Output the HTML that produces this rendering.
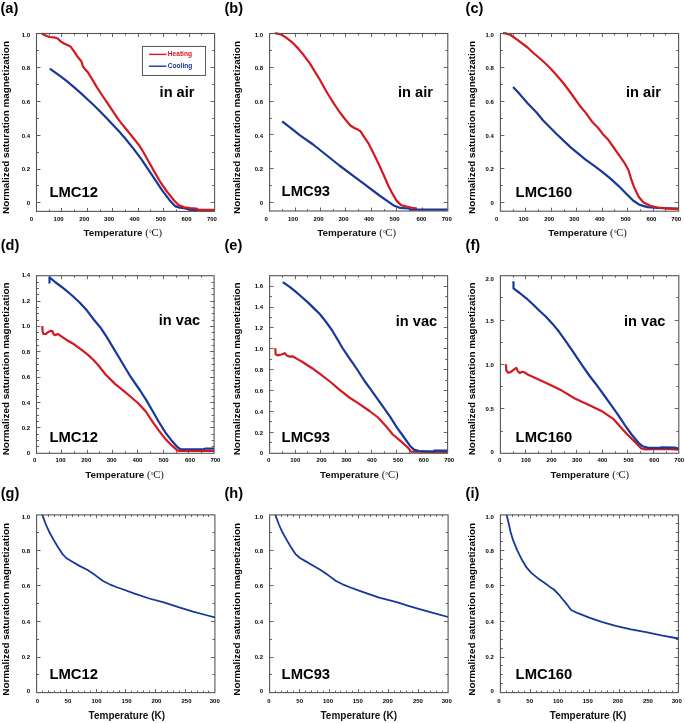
<!DOCTYPE html>
<html><head><meta charset="utf-8"><style>
html,body{margin:0;padding:0;background:#fff;}
svg{display:block;will-change:transform;}
</style></head><body>
<svg width="685" height="723" viewBox="0 0 685 723">
<rect width="685" height="723" fill="#fff"/>
<text x="0.5" y="12.7" font-family="Liberation Sans" font-size="14.6" font-weight="bold" text-anchor="start" fill="#000" >(a)</text>
<text x="224.5" y="12.7" font-family="Liberation Sans" font-size="14.6" font-weight="bold" text-anchor="start" fill="#000" >(b)</text>
<text x="465.6" y="12.7" font-family="Liberation Sans" font-size="14.6" font-weight="bold" text-anchor="start" fill="#000" >(c)</text>
<text x="0.7" y="249.8" font-family="Liberation Sans" font-size="14.6" font-weight="bold" text-anchor="start" fill="#000" >(d)</text>
<text x="224.5" y="249.8" font-family="Liberation Sans" font-size="14.6" font-weight="bold" text-anchor="start" fill="#000" >(e)</text>
<text x="465.6" y="249.8" font-family="Liberation Sans" font-size="14.6" font-weight="bold" text-anchor="start" fill="#000" >(f)</text>
<text x="0.7" y="498.2" font-family="Liberation Sans" font-size="14.6" font-weight="bold" text-anchor="start" fill="#000" >(g)</text>
<text x="224.5" y="498.2" font-family="Liberation Sans" font-size="14.6" font-weight="bold" text-anchor="start" fill="#000" >(h)</text>
<text x="465.6" y="498.2" font-family="Liberation Sans" font-size="14.6" font-weight="bold" text-anchor="start" fill="#000" >(i)</text>
<path d="M49.5 211.4L49.5 209.4 M49.5 33.5L49.5 35.5 M61.5 211.4L61.5 207.9 M61.5 33.5L61.5 37 M74.5 211.4L74.5 209.4 M74.5 33.5L74.5 35.5 M87.5 211.4L87.5 207.9 M87.5 33.5L87.5 37 M100.5 211.4L100.5 209.4 M100.5 33.5L100.5 35.5 M112.5 211.4L112.5 207.9 M112.5 33.5L112.5 37 M125.5 211.4L125.5 209.4 M125.5 33.5L125.5 35.5 M138.5 211.4L138.5 207.9 M138.5 33.5L138.5 37 M150.5 211.4L150.5 209.4 M150.5 33.5L150.5 35.5 M163.5 211.4L163.5 207.9 M163.5 33.5L163.5 37 M176.5 211.4L176.5 209.4 M176.5 33.5L176.5 35.5 M189.5 211.4L189.5 207.9 M189.5 33.5L189.5 37 M201.5 211.4L201.5 209.4 M201.5 33.5L201.5 35.5 M36.5 202.5L40.5 202.5 M214.6 202.5L210.6 202.5 M36.5 185.5L39 185.5 M214.6 185.5L212.1 185.5 M36.5 169.5L40.5 169.5 M214.6 169.5L210.6 169.5 M36.5 152.5L39 152.5 M214.6 152.5L212.1 152.5 M36.5 135.5L40.5 135.5 M214.6 135.5L210.6 135.5 M36.5 118.5L39 118.5 M214.6 118.5L212.1 118.5 M36.5 101.5L40.5 101.5 M214.6 101.5L210.6 101.5 M36.5 84.5L39 84.5 M214.6 84.5L212.1 84.5 M36.5 67.5L40.5 67.5 M214.6 67.5L210.6 67.5 M36.5 50.5L39 50.5 M214.6 50.5L212.1 50.5" stroke="#666" stroke-width="1" fill="none"/>
<path d="M282.5 211L282.5 209 M282.5 33.5L282.5 35.5 M295.5 211L295.5 207.5 M295.5 33.5L295.5 37 M307.5 211L307.5 209 M307.5 33.5L307.5 35.5 M320.5 211L320.5 207.5 M320.5 33.5L320.5 37 M333.5 211L333.5 209 M333.5 33.5L333.5 35.5 M345.5 211L345.5 207.5 M345.5 33.5L345.5 37 M358.5 211L358.5 209 M358.5 33.5L358.5 35.5 M371.5 211L371.5 207.5 M371.5 33.5L371.5 37 M384.5 211L384.5 209 M384.5 33.5L384.5 35.5 M396.5 211L396.5 207.5 M396.5 33.5L396.5 37 M409.5 211L409.5 209 M409.5 33.5L409.5 35.5 M422.5 211L422.5 207.5 M422.5 33.5L422.5 37 M435.5 211L435.5 209 M435.5 33.5L435.5 35.5 M269.6 202.5L273.6 202.5 M447.8 202.5L443.8 202.5 M269.6 185.5L272.1 185.5 M447.8 185.5L445.3 185.5 M269.6 168.5L273.6 168.5 M447.8 168.5L443.8 168.5 M269.6 151.5L272.1 151.5 M447.8 151.5L445.3 151.5 M269.6 134.5L273.6 134.5 M447.8 134.5L443.8 134.5 M269.6 118.5L272.1 118.5 M447.8 118.5L445.3 118.5 M269.6 101.5L273.6 101.5 M447.8 101.5L443.8 101.5 M269.6 84.5L272.1 84.5 M447.8 84.5L445.3 84.5 M269.6 67.5L273.6 67.5 M447.8 67.5L443.8 67.5 M269.6 50.5L272.1 50.5 M447.8 50.5L445.3 50.5" stroke="#666" stroke-width="1" fill="none"/>
<path d="M513.5 211.2L513.5 209.2 M513.5 33.5L513.5 35.5 M525.5 211.2L525.5 207.7 M525.5 33.5L525.5 37 M538.5 211.2L538.5 209.2 M538.5 33.5L538.5 35.5 M551.5 211.2L551.5 207.7 M551.5 33.5L551.5 37 M564.5 211.2L564.5 209.2 M564.5 33.5L564.5 35.5 M576.5 211.2L576.5 207.7 M576.5 33.5L576.5 37 M589.5 211.2L589.5 209.2 M589.5 33.5L589.5 35.5 M602.5 211.2L602.5 207.7 M602.5 33.5L602.5 37 M614.5 211.2L614.5 209.2 M614.5 33.5L614.5 35.5 M627.5 211.2L627.5 207.7 M627.5 33.5L627.5 37 M640.5 211.2L640.5 209.2 M640.5 33.5L640.5 35.5 M653.5 211.2L653.5 207.7 M653.5 33.5L653.5 37 M665.5 211.2L665.5 209.2 M665.5 33.5L665.5 35.5 M500.4 202.5L504.4 202.5 M678.6 202.5L674.6 202.5 M500.4 185.5L502.9 185.5 M678.6 185.5L676.1 185.5 M500.4 168.5L504.4 168.5 M678.6 168.5L674.6 168.5 M500.4 151.5L502.9 151.5 M678.6 151.5L676.1 151.5 M500.4 135.5L504.4 135.5 M678.6 135.5L674.6 135.5 M500.4 118.5L502.9 118.5 M678.6 118.5L676.1 118.5 M500.4 101.5L504.4 101.5 M678.6 101.5L674.6 101.5 M500.4 84.5L502.9 84.5 M678.6 84.5L676.1 84.5 M500.4 67.5L504.4 67.5 M678.6 67.5L674.6 67.5 M500.4 50.5L502.9 50.5 M678.6 50.5L676.1 50.5" stroke="#666" stroke-width="1" fill="none"/>
<path d="M49.5 453.3L49.5 451.3 M49.5 275.7L49.5 277.7 M61.5 453.3L61.5 449.8 M61.5 275.7L61.5 279.2 M74.5 453.3L74.5 451.3 M74.5 275.7L74.5 277.7 M87.5 453.3L87.5 449.8 M87.5 275.7L87.5 279.2 M99.5 453.3L99.5 451.3 M99.5 275.7L99.5 277.7 M112.5 453.3L112.5 449.8 M112.5 275.7L112.5 279.2 M125.5 453.3L125.5 451.3 M125.5 275.7L125.5 277.7 M137.5 453.3L137.5 449.8 M137.5 275.7L137.5 279.2 M150.5 453.3L150.5 451.3 M150.5 275.7L150.5 277.7 M163.5 453.3L163.5 449.8 M163.5 275.7L163.5 279.2 M176.5 453.3L176.5 451.3 M176.5 275.7L176.5 277.7 M188.5 453.3L188.5 449.8 M188.5 275.7L188.5 279.2 M201.5 453.3L201.5 451.3 M201.5 275.7L201.5 277.7 M36.5 446.5L39 446.5 M214.1 446.5L211.6 446.5 M36.5 440.5L39 440.5 M214.1 440.5L211.6 440.5 M36.5 434.5L39 434.5 M214.1 434.5L211.6 434.5 M36.5 427.5L40.5 427.5 M214.1 427.5L210.1 427.5 M36.5 421.5L39 421.5 M214.1 421.5L211.6 421.5 M36.5 415.5L39 415.5 M214.1 415.5L211.6 415.5 M36.5 408.5L39 408.5 M214.1 408.5L211.6 408.5 M36.5 402.5L40.5 402.5 M214.1 402.5L210.1 402.5 M36.5 396.5L39 396.5 M214.1 396.5L211.6 396.5 M36.5 389.5L39 389.5 M214.1 389.5L211.6 389.5 M36.5 383.5L39 383.5 M214.1 383.5L211.6 383.5 M36.5 377.5L40.5 377.5 M214.1 377.5L210.1 377.5 M36.5 370.5L39 370.5 M214.1 370.5L211.6 370.5 M36.5 364.5L39 364.5 M214.1 364.5L211.6 364.5 M36.5 358.5L39 358.5 M214.1 358.5L211.6 358.5 M36.5 351.5L40.5 351.5 M214.1 351.5L210.1 351.5 M36.5 345.5L39 345.5 M214.1 345.5L211.6 345.5 M36.5 339.5L39 339.5 M214.1 339.5L211.6 339.5 M36.5 332.5L39 332.5 M214.1 332.5L211.6 332.5 M36.5 326.5L40.5 326.5 M214.1 326.5L210.1 326.5 M36.5 320.5L39 320.5 M214.1 320.5L211.6 320.5 M36.5 313.5L39 313.5 M214.1 313.5L211.6 313.5 M36.5 307.5L39 307.5 M214.1 307.5L211.6 307.5 M36.5 301.5L40.5 301.5 M214.1 301.5L210.1 301.5 M36.5 294.5L39 294.5 M214.1 294.5L211.6 294.5 M36.5 288.5L39 288.5 M214.1 288.5L211.6 288.5 M36.5 282.5L39 282.5 M214.1 282.5L211.6 282.5" stroke="#666" stroke-width="1" fill="none"/>
<path d="M282.5 453.3L282.5 451.3 M282.5 275.7L282.5 277.7 M295.5 453.3L295.5 449.8 M295.5 275.7L295.5 279.2 M307.5 453.3L307.5 451.3 M307.5 275.7L307.5 277.7 M320.5 453.3L320.5 449.8 M320.5 275.7L320.5 279.2 M333.5 453.3L333.5 451.3 M333.5 275.7L333.5 277.7 M345.5 453.3L345.5 449.8 M345.5 275.7L345.5 279.2 M358.5 453.3L358.5 451.3 M358.5 275.7L358.5 277.7 M371.5 453.3L371.5 449.8 M371.5 275.7L371.5 279.2 M384.5 453.3L384.5 451.3 M384.5 275.7L384.5 277.7 M396.5 453.3L396.5 449.8 M396.5 275.7L396.5 279.2 M409.5 453.3L409.5 451.3 M409.5 275.7L409.5 277.7 M422.5 453.3L422.5 449.8 M422.5 275.7L422.5 279.2 M434.5 453.3L434.5 451.3 M434.5 275.7L434.5 277.7 M269.6 442.5L272.1 442.5 M447.6 442.5L445.1 442.5 M269.6 432.5L273.6 432.5 M447.6 432.5L443.6 432.5 M269.6 421.5L272.1 421.5 M447.6 421.5L445.1 421.5 M269.6 411.5L273.6 411.5 M447.6 411.5L443.6 411.5 M269.6 401.5L272.1 401.5 M447.6 401.5L445.1 401.5 M269.6 390.5L273.6 390.5 M447.6 390.5L443.6 390.5 M269.6 380.5L272.1 380.5 M447.6 380.5L445.1 380.5 M269.6 369.5L273.6 369.5 M447.6 369.5L443.6 369.5 M269.6 359.5L272.1 359.5 M447.6 359.5L445.1 359.5 M269.6 348.5L273.6 348.5 M447.6 348.5L443.6 348.5 M269.6 338.5L272.1 338.5 M447.6 338.5L445.1 338.5 M269.6 327.5L273.6 327.5 M447.6 327.5L443.6 327.5 M269.6 317.5L272.1 317.5 M447.6 317.5L445.1 317.5 M269.6 307.5L273.6 307.5 M447.6 307.5L443.6 307.5 M269.6 296.5L272.1 296.5 M447.6 296.5L445.1 296.5 M269.6 286.5L273.6 286.5 M447.6 286.5L443.6 286.5" stroke="#666" stroke-width="1" fill="none"/>
<path d="M513.5 453.3L513.5 451.3 M513.5 275.7L513.5 277.7 M525.5 453.3L525.5 449.8 M525.5 275.7L525.5 279.2 M538.5 453.3L538.5 451.3 M538.5 275.7L538.5 277.7 M551.5 453.3L551.5 449.8 M551.5 275.7L551.5 279.2 M564.5 453.3L564.5 451.3 M564.5 275.7L564.5 277.7 M576.5 453.3L576.5 449.8 M576.5 275.7L576.5 279.2 M589.5 453.3L589.5 451.3 M589.5 275.7L589.5 277.7 M602.5 453.3L602.5 449.8 M602.5 275.7L602.5 279.2 M615.5 453.3L615.5 451.3 M615.5 275.7L615.5 277.7 M627.5 453.3L627.5 449.8 M627.5 275.7L627.5 279.2 M640.5 453.3L640.5 451.3 M640.5 275.7L640.5 277.7 M653.5 453.3L653.5 449.8 M653.5 275.7L653.5 279.2 M666.5 453.3L666.5 451.3 M666.5 275.7L666.5 277.7 M500.4 431.5L502.9 431.5 M678.8 431.5L676.3 431.5 M500.4 408.5L504.4 408.5 M678.8 408.5L674.8 408.5 M500.4 386.5L502.9 386.5 M678.8 386.5L676.3 386.5 M500.4 364.5L504.4 364.5 M678.8 364.5L674.8 364.5 M500.4 342.5L502.9 342.5 M678.8 342.5L676.3 342.5 M500.4 320.5L504.4 320.5 M678.8 320.5L674.8 320.5 M500.4 297.5L502.9 297.5 M678.8 297.5L676.3 297.5" stroke="#666" stroke-width="1" fill="none"/>
<path d="M42.5 692.6L42.5 690.6 M42.5 514.9L42.5 516.9 M48.5 692.6L48.5 690.6 M48.5 514.9L48.5 516.9 M54.5 692.6L54.5 690.6 M54.5 514.9L54.5 516.9 M60.5 692.6L60.5 690.6 M60.5 514.9L60.5 516.9 M66.5 692.6L66.5 689.1 M66.5 514.9L66.5 518.4 M72.5 692.6L72.5 690.6 M72.5 514.9L72.5 516.9 M78.5 692.6L78.5 690.6 M78.5 514.9L78.5 516.9 M84.5 692.6L84.5 690.6 M84.5 514.9L84.5 516.9 M90.5 692.6L90.5 690.6 M90.5 514.9L90.5 516.9 M96.5 692.6L96.5 689.1 M96.5 514.9L96.5 518.4 M101.5 692.6L101.5 690.6 M101.5 514.9L101.5 516.9 M107.5 692.6L107.5 690.6 M107.5 514.9L107.5 516.9 M113.5 692.6L113.5 690.6 M113.5 514.9L113.5 516.9 M119.5 692.6L119.5 690.6 M119.5 514.9L119.5 516.9 M125.5 692.6L125.5 689.1 M125.5 514.9L125.5 518.4 M131.5 692.6L131.5 690.6 M131.5 514.9L131.5 516.9 M137.5 692.6L137.5 690.6 M137.5 514.9L137.5 516.9 M143.5 692.6L143.5 690.6 M143.5 514.9L143.5 516.9 M149.5 692.6L149.5 690.6 M149.5 514.9L149.5 516.9 M155.5 692.6L155.5 689.1 M155.5 514.9L155.5 518.4 M161.5 692.6L161.5 690.6 M161.5 514.9L161.5 516.9 M167.5 692.6L167.5 690.6 M167.5 514.9L167.5 516.9 M173.5 692.6L173.5 690.6 M173.5 514.9L173.5 516.9 M179.5 692.6L179.5 690.6 M179.5 514.9L179.5 516.9 M185.5 692.6L185.5 689.1 M185.5 514.9L185.5 518.4 M191.5 692.6L191.5 690.6 M191.5 514.9L191.5 516.9 M197.5 692.6L197.5 690.6 M197.5 514.9L197.5 516.9 M203.5 692.6L203.5 690.6 M203.5 514.9L203.5 516.9 M208.5 692.6L208.5 690.6 M208.5 514.9L208.5 516.9 M36.6 674.5L39.1 674.5 M214.9 674.5L212.4 674.5 M36.6 657.5L40.6 657.5 M214.9 657.5L210.9 657.5 M36.6 639.5L39.1 639.5 M214.9 639.5L212.4 639.5 M36.6 621.5L40.6 621.5 M214.9 621.5L210.9 621.5 M36.6 603.5L39.1 603.5 M214.9 603.5L212.4 603.5 M36.6 585.5L40.6 585.5 M214.9 585.5L210.9 585.5 M36.6 568.5L39.1 568.5 M214.9 568.5L212.4 568.5 M36.6 550.5L40.6 550.5 M214.9 550.5L210.9 550.5 M36.6 532.5L39.1 532.5 M214.9 532.5L212.4 532.5" stroke="#666" stroke-width="1" fill="none"/>
<path d="M275.5 692.6L275.5 690.6 M275.5 514.9L275.5 516.9 M281.5 692.6L281.5 690.6 M281.5 514.9L281.5 516.9 M287.5 692.6L287.5 690.6 M287.5 514.9L287.5 516.9 M293.5 692.6L293.5 690.6 M293.5 514.9L293.5 516.9 M299.5 692.6L299.5 689.1 M299.5 514.9L299.5 518.4 M305.5 692.6L305.5 690.6 M305.5 514.9L305.5 516.9 M311.5 692.6L311.5 690.6 M311.5 514.9L311.5 516.9 M317.5 692.6L317.5 690.6 M317.5 514.9L317.5 516.9 M323.5 692.6L323.5 690.6 M323.5 514.9L323.5 516.9 M329.5 692.6L329.5 689.1 M329.5 514.9L329.5 518.4 M335.5 692.6L335.5 690.6 M335.5 514.9L335.5 516.9 M340.5 692.6L340.5 690.6 M340.5 514.9L340.5 516.9 M346.5 692.6L346.5 690.6 M346.5 514.9L346.5 516.9 M352.5 692.6L352.5 690.6 M352.5 514.9L352.5 516.9 M358.5 692.6L358.5 689.1 M358.5 514.9L358.5 518.4 M364.5 692.6L364.5 690.6 M364.5 514.9L364.5 516.9 M370.5 692.6L370.5 690.6 M370.5 514.9L370.5 516.9 M376.5 692.6L376.5 690.6 M376.5 514.9L376.5 516.9 M382.5 692.6L382.5 690.6 M382.5 514.9L382.5 516.9 M388.5 692.6L388.5 689.1 M388.5 514.9L388.5 518.4 M394.5 692.6L394.5 690.6 M394.5 514.9L394.5 516.9 M400.5 692.6L400.5 690.6 M400.5 514.9L400.5 516.9 M406.5 692.6L406.5 690.6 M406.5 514.9L406.5 516.9 M412.5 692.6L412.5 690.6 M412.5 514.9L412.5 516.9 M418.5 692.6L418.5 689.1 M418.5 514.9L418.5 518.4 M424.5 692.6L424.5 690.6 M424.5 514.9L424.5 516.9 M430.5 692.6L430.5 690.6 M430.5 514.9L430.5 516.9 M436.5 692.6L436.5 690.6 M436.5 514.9L436.5 516.9 M442.5 692.6L442.5 690.6 M442.5 514.9L442.5 516.9 M269.6 674.5L272.1 674.5 M448.1 674.5L445.6 674.5 M269.6 657.5L273.6 657.5 M448.1 657.5L444.1 657.5 M269.6 639.5L272.1 639.5 M448.1 639.5L445.6 639.5 M269.6 621.5L273.6 621.5 M448.1 621.5L444.1 621.5 M269.6 603.5L272.1 603.5 M448.1 603.5L445.6 603.5 M269.6 585.5L273.6 585.5 M448.1 585.5L444.1 585.5 M269.6 568.5L272.1 568.5 M448.1 568.5L445.6 568.5 M269.6 550.5L273.6 550.5 M448.1 550.5L444.1 550.5 M269.6 532.5L272.1 532.5 M448.1 532.5L445.6 532.5" stroke="#666" stroke-width="1" fill="none"/>
<path d="M506.5 692.6L506.5 690.6 M506.5 514.9L506.5 516.9 M512.5 692.6L512.5 690.6 M512.5 514.9L512.5 516.9 M518.5 692.6L518.5 690.6 M518.5 514.9L518.5 516.9 M524.5 692.6L524.5 690.6 M524.5 514.9L524.5 516.9 M530.5 692.6L530.5 689.1 M530.5 514.9L530.5 518.4 M536.5 692.6L536.5 690.6 M536.5 514.9L536.5 516.9 M541.5 692.6L541.5 690.6 M541.5 514.9L541.5 516.9 M547.5 692.6L547.5 690.6 M547.5 514.9L547.5 516.9 M553.5 692.6L553.5 690.6 M553.5 514.9L553.5 516.9 M559.5 692.6L559.5 689.1 M559.5 514.9L559.5 518.4 M565.5 692.6L565.5 690.6 M565.5 514.9L565.5 516.9 M571.5 692.6L571.5 690.6 M571.5 514.9L571.5 516.9 M577.5 692.6L577.5 690.6 M577.5 514.9L577.5 516.9 M583.5 692.6L583.5 690.6 M583.5 514.9L583.5 516.9 M589.5 692.6L589.5 689.1 M589.5 514.9L589.5 518.4 M595.5 692.6L595.5 690.6 M595.5 514.9L595.5 516.9 M601.5 692.6L601.5 690.6 M601.5 514.9L601.5 516.9 M607.5 692.6L607.5 690.6 M607.5 514.9L607.5 516.9 M613.5 692.6L613.5 690.6 M613.5 514.9L613.5 516.9 M619.5 692.6L619.5 689.1 M619.5 514.9L619.5 518.4 M624.5 692.6L624.5 690.6 M624.5 514.9L624.5 516.9 M630.5 692.6L630.5 690.6 M630.5 514.9L630.5 516.9 M636.5 692.6L636.5 690.6 M636.5 514.9L636.5 516.9 M642.5 692.6L642.5 690.6 M642.5 514.9L642.5 516.9 M648.5 692.6L648.5 689.1 M648.5 514.9L648.5 518.4 M654.5 692.6L654.5 690.6 M654.5 514.9L654.5 516.9 M660.5 692.6L660.5 690.6 M660.5 514.9L660.5 516.9 M666.5 692.6L666.5 690.6 M666.5 514.9L666.5 516.9 M672.5 692.6L672.5 690.6 M672.5 514.9L672.5 516.9 M500.4 683.5L502.9 683.5 M678.4 683.5L675.9 683.5 M500.4 674.5L502.9 674.5 M678.4 674.5L675.9 674.5 M500.4 665.5L502.9 665.5 M678.4 665.5L675.9 665.5 M500.4 657.5L504.4 657.5 M678.4 657.5L674.4 657.5 M500.4 648.5L502.9 648.5 M678.4 648.5L675.9 648.5 M500.4 639.5L502.9 639.5 M678.4 639.5L675.9 639.5 M500.4 630.5L502.9 630.5 M678.4 630.5L675.9 630.5 M500.4 621.5L504.4 621.5 M678.4 621.5L674.4 621.5 M500.4 612.5L502.9 612.5 M678.4 612.5L675.9 612.5 M500.4 603.5L502.9 603.5 M678.4 603.5L675.9 603.5 M500.4 594.5L502.9 594.5 M678.4 594.5L675.9 594.5 M500.4 585.5L504.4 585.5 M678.4 585.5L674.4 585.5 M500.4 577.5L502.9 577.5 M678.4 577.5L675.9 577.5 M500.4 568.5L502.9 568.5 M678.4 568.5L675.9 568.5 M500.4 559.5L502.9 559.5 M678.4 559.5L675.9 559.5 M500.4 550.5L504.4 550.5 M678.4 550.5L674.4 550.5 M500.4 541.5L502.9 541.5 M678.4 541.5L675.9 541.5 M500.4 532.5L502.9 532.5 M678.4 532.5L675.9 532.5 M500.4 523.5L502.9 523.5 M678.4 523.5L675.9 523.5" stroke="#666" stroke-width="1" fill="none"/>
<text x="30" y="37.16" font-family="Liberation Sans" font-size="6" font-weight="bold" text-anchor="end" fill="#000" >1.0</text>
<text x="30" y="70.16" font-family="Liberation Sans" font-size="6" font-weight="bold" text-anchor="end" fill="#000" >0.8</text>
<text x="30" y="103.76" font-family="Liberation Sans" font-size="6" font-weight="bold" text-anchor="end" fill="#000" >0.6</text>
<text x="30" y="137.56" font-family="Liberation Sans" font-size="6" font-weight="bold" text-anchor="end" fill="#000" >0.4</text>
<text x="30" y="171.16" font-family="Liberation Sans" font-size="6" font-weight="bold" text-anchor="end" fill="#000" >0.2</text>
<text x="30" y="205.16" font-family="Liberation Sans" font-size="6" font-weight="bold" text-anchor="end" fill="#000" >0</text>
<text x="263.1" y="37.16" font-family="Liberation Sans" font-size="6" font-weight="bold" text-anchor="end" fill="#000" >1.0</text>
<text x="263.1" y="70.16" font-family="Liberation Sans" font-size="6" font-weight="bold" text-anchor="end" fill="#000" >0.8</text>
<text x="263.1" y="103.76" font-family="Liberation Sans" font-size="6" font-weight="bold" text-anchor="end" fill="#000" >0.6</text>
<text x="263.1" y="137.56" font-family="Liberation Sans" font-size="6" font-weight="bold" text-anchor="end" fill="#000" >0.4</text>
<text x="263.1" y="171.16" font-family="Liberation Sans" font-size="6" font-weight="bold" text-anchor="end" fill="#000" >0.2</text>
<text x="263.1" y="205.16" font-family="Liberation Sans" font-size="6" font-weight="bold" text-anchor="end" fill="#000" >0</text>
<text x="493.9" y="37.16" font-family="Liberation Sans" font-size="6" font-weight="bold" text-anchor="end" fill="#000" >1.0</text>
<text x="493.9" y="70.16" font-family="Liberation Sans" font-size="6" font-weight="bold" text-anchor="end" fill="#000" >0.8</text>
<text x="493.9" y="103.76" font-family="Liberation Sans" font-size="6" font-weight="bold" text-anchor="end" fill="#000" >0.6</text>
<text x="493.9" y="137.56" font-family="Liberation Sans" font-size="6" font-weight="bold" text-anchor="end" fill="#000" >0.4</text>
<text x="493.9" y="171.16" font-family="Liberation Sans" font-size="6" font-weight="bold" text-anchor="end" fill="#000" >0.2</text>
<text x="493.9" y="205.16" font-family="Liberation Sans" font-size="6" font-weight="bold" text-anchor="end" fill="#000" >0</text>
<text x="30" y="276.86" font-family="Liberation Sans" font-size="6" font-weight="bold" text-anchor="end" fill="#000" >1.4</text>
<text x="30" y="302.86" font-family="Liberation Sans" font-size="6" font-weight="bold" text-anchor="end" fill="#000" >1.2</text>
<text x="30" y="328.36" font-family="Liberation Sans" font-size="6" font-weight="bold" text-anchor="end" fill="#000" >1.0</text>
<text x="30" y="353.86" font-family="Liberation Sans" font-size="6" font-weight="bold" text-anchor="end" fill="#000" >0.8</text>
<text x="30" y="379.36" font-family="Liberation Sans" font-size="6" font-weight="bold" text-anchor="end" fill="#000" >0.6</text>
<text x="30" y="404.86" font-family="Liberation Sans" font-size="6" font-weight="bold" text-anchor="end" fill="#000" >0.4</text>
<text x="30" y="430.36" font-family="Liberation Sans" font-size="6" font-weight="bold" text-anchor="end" fill="#000" >0.2</text>
<text x="30" y="455.16" font-family="Liberation Sans" font-size="6" font-weight="bold" text-anchor="end" fill="#000" >0</text>
<text x="263.1" y="288.16" font-family="Liberation Sans" font-size="6" font-weight="bold" text-anchor="end" fill="#000" >1.6</text>
<text x="263.1" y="309.36" font-family="Liberation Sans" font-size="6" font-weight="bold" text-anchor="end" fill="#000" >1.4</text>
<text x="263.1" y="330.16" font-family="Liberation Sans" font-size="6" font-weight="bold" text-anchor="end" fill="#000" >1.2</text>
<text x="263.1" y="351.16" font-family="Liberation Sans" font-size="6" font-weight="bold" text-anchor="end" fill="#000" >1.0</text>
<text x="263.1" y="372.16" font-family="Liberation Sans" font-size="6" font-weight="bold" text-anchor="end" fill="#000" >0.8</text>
<text x="263.1" y="393.16" font-family="Liberation Sans" font-size="6" font-weight="bold" text-anchor="end" fill="#000" >0.6</text>
<text x="263.1" y="413.96" font-family="Liberation Sans" font-size="6" font-weight="bold" text-anchor="end" fill="#000" >0.4</text>
<text x="263.1" y="434.76" font-family="Liberation Sans" font-size="6" font-weight="bold" text-anchor="end" fill="#000" >0.2</text>
<text x="263.1" y="455.16" font-family="Liberation Sans" font-size="6" font-weight="bold" text-anchor="end" fill="#000" >0</text>
<text x="493.9" y="281.16" font-family="Liberation Sans" font-size="6" font-weight="bold" text-anchor="end" fill="#000" >2.0</text>
<text x="493.9" y="322.76" font-family="Liberation Sans" font-size="6" font-weight="bold" text-anchor="end" fill="#000" >1.5</text>
<text x="493.9" y="366.76" font-family="Liberation Sans" font-size="6" font-weight="bold" text-anchor="end" fill="#000" >1.0</text>
<text x="493.9" y="410.76" font-family="Liberation Sans" font-size="6" font-weight="bold" text-anchor="end" fill="#000" >0.5</text>
<text x="493.9" y="454.16" font-family="Liberation Sans" font-size="6" font-weight="bold" text-anchor="end" fill="#000" >0</text>
<text x="30.1" y="519.36" font-family="Liberation Sans" font-size="6" font-weight="bold" text-anchor="end" fill="#000" >1.0</text>
<text x="30.1" y="552.76" font-family="Liberation Sans" font-size="6" font-weight="bold" text-anchor="end" fill="#000" >0.8</text>
<text x="30.1" y="588.16" font-family="Liberation Sans" font-size="6" font-weight="bold" text-anchor="end" fill="#000" >0.6</text>
<text x="30.1" y="623.76" font-family="Liberation Sans" font-size="6" font-weight="bold" text-anchor="end" fill="#000" >0.4</text>
<text x="30.1" y="659.16" font-family="Liberation Sans" font-size="6" font-weight="bold" text-anchor="end" fill="#000" >0.2</text>
<text x="30.1" y="692.56" font-family="Liberation Sans" font-size="6" font-weight="bold" text-anchor="end" fill="#000" >0</text>
<text x="263.1" y="519.36" font-family="Liberation Sans" font-size="6" font-weight="bold" text-anchor="end" fill="#000" >1.0</text>
<text x="263.1" y="552.76" font-family="Liberation Sans" font-size="6" font-weight="bold" text-anchor="end" fill="#000" >0.8</text>
<text x="263.1" y="588.16" font-family="Liberation Sans" font-size="6" font-weight="bold" text-anchor="end" fill="#000" >0.6</text>
<text x="263.1" y="623.76" font-family="Liberation Sans" font-size="6" font-weight="bold" text-anchor="end" fill="#000" >0.4</text>
<text x="263.1" y="659.16" font-family="Liberation Sans" font-size="6" font-weight="bold" text-anchor="end" fill="#000" >0.2</text>
<text x="263.1" y="692.56" font-family="Liberation Sans" font-size="6" font-weight="bold" text-anchor="end" fill="#000" >0</text>
<text x="493.9" y="519.36" font-family="Liberation Sans" font-size="6" font-weight="bold" text-anchor="end" fill="#000" >1.0</text>
<text x="493.9" y="552.76" font-family="Liberation Sans" font-size="6" font-weight="bold" text-anchor="end" fill="#000" >0.8</text>
<text x="493.9" y="588.16" font-family="Liberation Sans" font-size="6" font-weight="bold" text-anchor="end" fill="#000" >0.6</text>
<text x="493.9" y="623.76" font-family="Liberation Sans" font-size="6" font-weight="bold" text-anchor="end" fill="#000" >0.4</text>
<text x="493.9" y="659.16" font-family="Liberation Sans" font-size="6" font-weight="bold" text-anchor="end" fill="#000" >0.2</text>
<text x="493.9" y="692.56" font-family="Liberation Sans" font-size="6" font-weight="bold" text-anchor="end" fill="#000" >0</text>
<text x="31.4" y="221.06" font-family="Liberation Sans" font-size="6" font-weight="bold" text-anchor="middle" fill="#000" >0</text>
<text x="58.6" y="221.06" font-family="Liberation Sans" font-size="6" font-weight="bold" text-anchor="middle" fill="#000" >100</text>
<text x="84.3" y="221.06" font-family="Liberation Sans" font-size="6" font-weight="bold" text-anchor="middle" fill="#000" >200</text>
<text x="109.1" y="221.06" font-family="Liberation Sans" font-size="6" font-weight="bold" text-anchor="middle" fill="#000" >300</text>
<text x="134.5" y="221.06" font-family="Liberation Sans" font-size="6" font-weight="bold" text-anchor="middle" fill="#000" >400</text>
<text x="160.8" y="221.06" font-family="Liberation Sans" font-size="6" font-weight="bold" text-anchor="middle" fill="#000" >500</text>
<text x="186.5" y="221.06" font-family="Liberation Sans" font-size="6" font-weight="bold" text-anchor="middle" fill="#000" >600</text>
<text x="211.9" y="221.06" font-family="Liberation Sans" font-size="6" font-weight="bold" text-anchor="middle" fill="#000" >700</text>
<text x="266.1" y="221.26" font-family="Liberation Sans" font-size="6" font-weight="bold" text-anchor="middle" fill="#000" >0</text>
<text x="293" y="221.26" font-family="Liberation Sans" font-size="6" font-weight="bold" text-anchor="middle" fill="#000" >100</text>
<text x="318.6" y="221.26" font-family="Liberation Sans" font-size="6" font-weight="bold" text-anchor="middle" fill="#000" >200</text>
<text x="343.5" y="221.26" font-family="Liberation Sans" font-size="6" font-weight="bold" text-anchor="middle" fill="#000" >300</text>
<text x="368.9" y="221.26" font-family="Liberation Sans" font-size="6" font-weight="bold" text-anchor="middle" fill="#000" >400</text>
<text x="394.6" y="221.26" font-family="Liberation Sans" font-size="6" font-weight="bold" text-anchor="middle" fill="#000" >500</text>
<text x="421.4" y="221.26" font-family="Liberation Sans" font-size="6" font-weight="bold" text-anchor="middle" fill="#000" >600</text>
<text x="446.8" y="221.26" font-family="Liberation Sans" font-size="6" font-weight="bold" text-anchor="middle" fill="#000" >700</text>
<text x="496.7" y="221.26" font-family="Liberation Sans" font-size="6" font-weight="bold" text-anchor="middle" fill="#000" >0</text>
<text x="523.5" y="221.26" font-family="Liberation Sans" font-size="6" font-weight="bold" text-anchor="middle" fill="#000" >100</text>
<text x="549.2" y="221.26" font-family="Liberation Sans" font-size="6" font-weight="bold" text-anchor="middle" fill="#000" >200</text>
<text x="574.3" y="221.26" font-family="Liberation Sans" font-size="6" font-weight="bold" text-anchor="middle" fill="#000" >300</text>
<text x="599.7" y="221.26" font-family="Liberation Sans" font-size="6" font-weight="bold" text-anchor="middle" fill="#000" >400</text>
<text x="625.7" y="221.26" font-family="Liberation Sans" font-size="6" font-weight="bold" text-anchor="middle" fill="#000" >500</text>
<text x="651.4" y="221.26" font-family="Liberation Sans" font-size="6" font-weight="bold" text-anchor="middle" fill="#000" >600</text>
<text x="676.2" y="221.26" font-family="Liberation Sans" font-size="6" font-weight="bold" text-anchor="middle" fill="#000" >700</text>
<text x="34.6" y="462.36" font-family="Liberation Sans" font-size="6" font-weight="bold" text-anchor="middle" fill="#000" >0</text>
<text x="60.6" y="462.36" font-family="Liberation Sans" font-size="6" font-weight="bold" text-anchor="middle" fill="#000" >100</text>
<text x="86.3" y="462.36" font-family="Liberation Sans" font-size="6" font-weight="bold" text-anchor="middle" fill="#000" >200</text>
<text x="111.7" y="462.36" font-family="Liberation Sans" font-size="6" font-weight="bold" text-anchor="middle" fill="#000" >300</text>
<text x="137.4" y="462.36" font-family="Liberation Sans" font-size="6" font-weight="bold" text-anchor="middle" fill="#000" >400</text>
<text x="163.7" y="462.36" font-family="Liberation Sans" font-size="6" font-weight="bold" text-anchor="middle" fill="#000" >500</text>
<text x="190" y="462.36" font-family="Liberation Sans" font-size="6" font-weight="bold" text-anchor="middle" fill="#000" >600</text>
<text x="215.4" y="462.36" font-family="Liberation Sans" font-size="6" font-weight="bold" text-anchor="middle" fill="#000" >700</text>
<text x="268.7" y="462.36" font-family="Liberation Sans" font-size="6" font-weight="bold" text-anchor="middle" fill="#000" >0</text>
<text x="295.3" y="462.36" font-family="Liberation Sans" font-size="6" font-weight="bold" text-anchor="middle" fill="#000" >100</text>
<text x="321.6" y="462.36" font-family="Liberation Sans" font-size="6" font-weight="bold" text-anchor="middle" fill="#000" >200</text>
<text x="346.4" y="462.36" font-family="Liberation Sans" font-size="6" font-weight="bold" text-anchor="middle" fill="#000" >300</text>
<text x="371.8" y="462.36" font-family="Liberation Sans" font-size="6" font-weight="bold" text-anchor="middle" fill="#000" >400</text>
<text x="398.1" y="462.36" font-family="Liberation Sans" font-size="6" font-weight="bold" text-anchor="middle" fill="#000" >500</text>
<text x="423.8" y="462.36" font-family="Liberation Sans" font-size="6" font-weight="bold" text-anchor="middle" fill="#000" >600</text>
<text x="449.2" y="462.36" font-family="Liberation Sans" font-size="6" font-weight="bold" text-anchor="middle" fill="#000" >700</text>
<text x="499.6" y="462.36" font-family="Liberation Sans" font-size="6" font-weight="bold" text-anchor="middle" fill="#000" >0</text>
<text x="525.9" y="462.36" font-family="Liberation Sans" font-size="6" font-weight="bold" text-anchor="middle" fill="#000" >100</text>
<text x="551.6" y="462.36" font-family="Liberation Sans" font-size="6" font-weight="bold" text-anchor="middle" fill="#000" >200</text>
<text x="577" y="462.36" font-family="Liberation Sans" font-size="6" font-weight="bold" text-anchor="middle" fill="#000" >300</text>
<text x="602.4" y="462.36" font-family="Liberation Sans" font-size="6" font-weight="bold" text-anchor="middle" fill="#000" >400</text>
<text x="628.6" y="462.36" font-family="Liberation Sans" font-size="6" font-weight="bold" text-anchor="middle" fill="#000" >500</text>
<text x="654.3" y="462.36" font-family="Liberation Sans" font-size="6" font-weight="bold" text-anchor="middle" fill="#000" >600</text>
<text x="679.2" y="462.36" font-family="Liberation Sans" font-size="6" font-weight="bold" text-anchor="middle" fill="#000" >700</text>
<text x="37.3" y="703.26" font-family="Liberation Sans" font-size="6" font-weight="bold" text-anchor="middle" fill="#000" >0</text>
<text x="67.9" y="703.26" font-family="Liberation Sans" font-size="6" font-weight="bold" text-anchor="middle" fill="#000" >50</text>
<text x="96.5" y="703.26" font-family="Liberation Sans" font-size="6" font-weight="bold" text-anchor="middle" fill="#000" >100</text>
<text x="126.6" y="703.26" font-family="Liberation Sans" font-size="6" font-weight="bold" text-anchor="middle" fill="#000" >150</text>
<text x="156.4" y="703.26" font-family="Liberation Sans" font-size="6" font-weight="bold" text-anchor="middle" fill="#000" >200</text>
<text x="186.5" y="703.26" font-family="Liberation Sans" font-size="6" font-weight="bold" text-anchor="middle" fill="#000" >250</text>
<text x="214.8" y="703.26" font-family="Liberation Sans" font-size="6" font-weight="bold" text-anchor="middle" fill="#000" >300</text>
<text x="269" y="703.26" font-family="Liberation Sans" font-size="6" font-weight="bold" text-anchor="middle" fill="#000" >0</text>
<text x="299.7" y="703.26" font-family="Liberation Sans" font-size="6" font-weight="bold" text-anchor="middle" fill="#000" >50</text>
<text x="328" y="703.26" font-family="Liberation Sans" font-size="6" font-weight="bold" text-anchor="middle" fill="#000" >100</text>
<text x="357.8" y="703.26" font-family="Liberation Sans" font-size="6" font-weight="bold" text-anchor="middle" fill="#000" >150</text>
<text x="387.8" y="703.26" font-family="Liberation Sans" font-size="6" font-weight="bold" text-anchor="middle" fill="#000" >200</text>
<text x="417.9" y="703.26" font-family="Liberation Sans" font-size="6" font-weight="bold" text-anchor="middle" fill="#000" >250</text>
<text x="446.8" y="703.26" font-family="Liberation Sans" font-size="6" font-weight="bold" text-anchor="middle" fill="#000" >300</text>
<text x="499" y="703.26" font-family="Liberation Sans" font-size="6" font-weight="bold" text-anchor="middle" fill="#000" >0</text>
<text x="529.7" y="703.26" font-family="Liberation Sans" font-size="6" font-weight="bold" text-anchor="middle" fill="#000" >50</text>
<text x="558" y="703.26" font-family="Liberation Sans" font-size="6" font-weight="bold" text-anchor="middle" fill="#000" >100</text>
<text x="587.8" y="703.26" font-family="Liberation Sans" font-size="6" font-weight="bold" text-anchor="middle" fill="#000" >150</text>
<text x="617.8" y="703.26" font-family="Liberation Sans" font-size="6" font-weight="bold" text-anchor="middle" fill="#000" >200</text>
<text x="647.9" y="703.26" font-family="Liberation Sans" font-size="6" font-weight="bold" text-anchor="middle" fill="#000" >250</text>
<text x="676.8" y="703.26" font-family="Liberation Sans" font-size="6" font-weight="bold" text-anchor="middle" fill="#000" >300</text>
<text transform="translate(9.05 127.5) rotate(-90)" x="0" y="0" font-family="Liberation Sans" font-size="9.9" font-weight="bold" text-anchor="middle" fill="#000">Normalized saturation magnetization</text>
<text transform="translate(9.05 368.85) rotate(-90)" x="0" y="0" font-family="Liberation Sans" font-size="9.9" font-weight="bold" text-anchor="middle" fill="#000">Normalized saturation magnetization</text>
<text transform="translate(9.05 609.3) rotate(-90)" x="0" y="0" font-family="Liberation Sans" font-size="9.9" font-weight="bold" text-anchor="middle" fill="#000">Normalized saturation magnetization</text>
<text transform="translate(240.4 127.5) rotate(-90)" x="0" y="0" font-family="Liberation Sans" font-size="9.9" font-weight="bold" text-anchor="middle" fill="#000">Normalized saturation magnetization</text>
<text transform="translate(240.4 368.85) rotate(-90)" x="0" y="0" font-family="Liberation Sans" font-size="9.9" font-weight="bold" text-anchor="middle" fill="#000">Normalized saturation magnetization</text>
<text transform="translate(240.4 609.3) rotate(-90)" x="0" y="0" font-family="Liberation Sans" font-size="9.9" font-weight="bold" text-anchor="middle" fill="#000">Normalized saturation magnetization</text>
<text transform="translate(474.75 127.5) rotate(-90)" x="0" y="0" font-family="Liberation Sans" font-size="9.9" font-weight="bold" text-anchor="middle" fill="#000">Normalized saturation magnetization</text>
<text transform="translate(474.75 368.85) rotate(-90)" x="0" y="0" font-family="Liberation Sans" font-size="9.9" font-weight="bold" text-anchor="middle" fill="#000">Normalized saturation magnetization</text>
<text transform="translate(474.75 609.3) rotate(-90)" x="0" y="0" font-family="Liberation Sans" font-size="9.9" font-weight="bold" text-anchor="middle" fill="#000">Normalized saturation magnetization</text>
<text x="83.4" y="236.2" font-family="Liberation Sans" font-size="9.9" font-weight="bold" fill="#111">Temperature <tspan font-family="Liberation Serif" font-weight="normal" font-size="10.69">(<tspan font-size="7.92" dy="-0.3">°</tspan><tspan dy="0.3" dx="-0.6">C</tspan>)</tspan></text>
<text x="317.3" y="236.1" font-family="Liberation Sans" font-size="9.9" font-weight="bold" fill="#111">Temperature <tspan font-family="Liberation Serif" font-weight="normal" font-size="10.69">(<tspan font-size="7.92" dy="-0.3">°</tspan><tspan dy="0.3" dx="-0.6">C</tspan>)</tspan></text>
<text x="548.2" y="236.1" font-family="Liberation Sans" font-size="9.9" font-weight="bold" fill="#111">Temperature <tspan font-family="Liberation Serif" font-weight="normal" font-size="10.69">(<tspan font-size="7.92" dy="-0.3">°</tspan><tspan dy="0.3" dx="-0.6">C</tspan>)</tspan></text>
<text x="85.2" y="477.8" font-family="Liberation Sans" font-size="9.9" font-weight="bold" fill="#111">Temperature <tspan font-family="Liberation Serif" font-weight="normal" font-size="10.69">(<tspan font-size="7.92" dy="-0.3">°</tspan><tspan dy="0.3" dx="-0.6">C</tspan>)</tspan></text>
<text x="319.9" y="477.8" font-family="Liberation Sans" font-size="9.9" font-weight="bold" fill="#111">Temperature <tspan font-family="Liberation Serif" font-weight="normal" font-size="10.69">(<tspan font-size="7.92" dy="-0.3">°</tspan><tspan dy="0.3" dx="-0.6">C</tspan>)</tspan></text>
<text x="550.5" y="477.8" font-family="Liberation Sans" font-size="9.9" font-weight="bold" fill="#111">Temperature <tspan font-family="Liberation Serif" font-weight="normal" font-size="10.69">(<tspan font-size="7.92" dy="-0.3">°</tspan><tspan dy="0.3" dx="-0.6">C</tspan>)</tspan></text>
<text x="88.6" y="718.9" font-family="Liberation Sans" font-size="10" font-weight="bold" fill="#111">Temperature (K)</text>
<text x="320.5" y="718.9" font-family="Liberation Sans" font-size="10" font-weight="bold" fill="#111">Temperature (K)</text>
<text x="549.8" y="718.9" font-family="Liberation Sans" font-size="10" font-weight="bold" fill="#111">Temperature (K)</text>
<text x="49.5" y="196.6" font-family="Liberation Sans" font-size="14.8" font-weight="bold" text-anchor="start" fill="#000" >LMC12</text>
<text x="281.6" y="196.3" font-family="Liberation Sans" font-size="14.8" font-weight="bold" text-anchor="start" fill="#000" >LMC93</text>
<text x="515.6" y="196.6" font-family="Liberation Sans" font-size="14.8" font-weight="bold" text-anchor="start" fill="#000" >LMC160</text>
<text x="49.5" y="442.4" font-family="Liberation Sans" font-size="14.8" font-weight="bold" text-anchor="start" fill="#000" >LMC12</text>
<text x="281.6" y="442.2" font-family="Liberation Sans" font-size="14.8" font-weight="bold" text-anchor="start" fill="#000" >LMC93</text>
<text x="515.6" y="442.2" font-family="Liberation Sans" font-size="14.8" font-weight="bold" text-anchor="start" fill="#000" >LMC160</text>
<text x="49.5" y="679.4" font-family="Liberation Sans" font-size="14.8" font-weight="bold" text-anchor="start" fill="#000" >LMC12</text>
<text x="281.6" y="679.1" font-family="Liberation Sans" font-size="14.8" font-weight="bold" text-anchor="start" fill="#000" >LMC93</text>
<text x="515.6" y="679.1" font-family="Liberation Sans" font-size="14.8" font-weight="bold" text-anchor="start" fill="#000" >LMC160</text>
<text x="159.6" y="96.6" font-family="Liberation Sans" font-size="14.6" font-weight="bold" text-anchor="start" fill="#000" >in air</text>
<text x="398" y="96.6" font-family="Liberation Sans" font-size="14.6" font-weight="bold" text-anchor="start" fill="#000" >in air</text>
<text x="626" y="96.6" font-family="Liberation Sans" font-size="14.6" font-weight="bold" text-anchor="start" fill="#000" >in air</text>
<text x="158.8" y="324.9" font-family="Liberation Sans" font-size="14.6" font-weight="bold" text-anchor="start" fill="#000" >in vac</text>
<text x="395.8" y="326" font-family="Liberation Sans" font-size="14.6" font-weight="bold" text-anchor="start" fill="#000" >in vac</text>
<text x="624" y="326.4" font-family="Liberation Sans" font-size="14.6" font-weight="bold" text-anchor="start" fill="#000" >in vac</text>
<rect x="142.4" y="46.4" width="63.2" height="29" fill="#fff" stroke="#444" stroke-width="0.9"/>
<path d="M149 54.4H166.4" stroke="#d41920" stroke-width="1.4"/>
<path d="M149 66.2H166.4" stroke="#17389a" stroke-width="1.4"/>
<text x="167.8" y="56.3" font-family="Liberation Sans" font-size="6.6" font-weight="bold" text-anchor="start" fill="#d41920" >Heating</text>
<text x="167.8" y="68.3" font-family="Liberation Sans" font-size="6.6" font-weight="bold" text-anchor="start" fill="#17389a" >Cooling</text>
<path d="M49.8 68.7 L55 72.4 L60 75.9 L66.5 80.9 L73.1 86.4 L79.7 92.2 L86.3 98.2 L92.8 104.3 L99.4 110.7 L106 117.5 L112.6 124.5 L119.2 131.6 L125.7 139 L133.6 148.9 L141.5 159.3 L148.2 169.3 L155.2 179.9 L162.2 190.4 L169.2 199.7 L175 206.1 L179.7 207.6 L184.4 208.1 L189.6 209.6 L194.9 210.2 L214.2 210.2" fill="none" stroke="#17389a" stroke-width="2.2" stroke-linejoin="round" stroke-linecap="butt"/>
<path d="M41.7 33.6 L44.5 35 L49.3 37 L53.7 37.3 L57.7 38.5 L60.3 41.1 L64 43.5 L67.5 45.1 L70.8 46.8 L74.1 51.4 L78 57.3 L81.3 61.2 L83 66.5 L84.6 68.7 L87.9 72.3 L92.5 79.8 L96.8 87.1 L102 95 L107.3 102.8 L112.5 110.7 L117.8 118.6 L123 125.3 L128.3 131.8 L133.5 138.3 L138.8 144.9 L143 151.5 L147.4 159.3 L154 171.1 L160.4 182.2 L166.9 191.5 L173.9 200.3 L178.5 205 L184.4 207.3 L190.2 208.1 L196.1 208.5 L198.4 209.8 L214.2 209.8" fill="none" stroke="#d41920" stroke-width="2.2" stroke-linejoin="round" stroke-linecap="butt"/>
<path d="M282.1 121.3 L290 127.3 L300 135.3 L313.1 144.5 L326.3 155 L339.4 165.5 L352.6 175.3 L365.7 185.2 L378.8 195 L387.5 201.1 L394.3 205.8 L399.6 207.8 L409 208.5 L410.4 209.6 L447.7 209.6" fill="none" stroke="#17389a" stroke-width="2.2" stroke-linejoin="round" stroke-linecap="butt"/>
<path d="M275 33.2 L280.8 34.3 L286.1 37.6 L292 42.2 L297.9 48.1 L303.8 55.3 L309.7 63.2 L315 71.8 L320.2 80.3 L325.5 90 L330.4 98 L333.9 103.7 L339.2 111.5 L344.5 118.5 L350.4 125.5 L354.3 128 L357.8 129.6 L360.5 131.2 L363.1 135.3 L368.3 143.1 L373.6 153.6 L378.8 164.2 L384.1 176 L388 185 L391.6 192 L396.3 200.4 L401 205.1 L406.3 206.5 L411.7 207.8 L417.1 208.5" fill="none" stroke="#d41920" stroke-width="2.2" stroke-linejoin="round" stroke-linecap="butt"/>
<path d="M513.1 86.9 L519.7 94.1 L527.6 103.3 L536.8 112.8 L543.1 120.5 L556.3 133.7 L570.7 147.4 L585.2 159.3 L595 166.4 L602.9 172.3 L610.8 178.9 L618.7 186.1 L626.5 194 L633.1 200.5 L639.7 204.9 L647.6 207.1 L658.1 208 L678.4 208.7" fill="none" stroke="#17389a" stroke-width="2.2" stroke-linejoin="round" stroke-linecap="butt"/>
<path d="M503 33.2 L505.9 33.4 L510.5 35 L517.1 39.6 L527.6 47.5 L534 53.5 L540 58.5 L547.9 65.8 L555.8 74.3 L563.7 83.5 L571.5 94 L579.4 105.2 L586 113.1 L592.6 122.3 L597.8 127.5 L602.9 134.2 L608.3 139.8 L613 146.5 L618.7 154.6 L624.6 163.1 L628.5 170.3 L631.1 178.9 L634.4 188.1 L639 197.3 L643.6 202.5 L650.2 205.8 L658.1 207.5 L666 208.4 L678.4 209.1" fill="none" stroke="#d41920" stroke-width="2.2" stroke-linejoin="round" stroke-linecap="butt"/>
<path d="M49.5 283.6 L49.5 277.3 L55.7 282.5 L63.6 288.4 L71.5 295 L79.4 302.2 L87.2 310.8 L94.1 320 L100.2 327.2 L106.3 336.3 L112.5 346.6 L118.6 356.8 L124.7 367 L130.9 377.2 L140.1 390.5 L146 399.6 L152 410 L158.9 422 L165.5 432.6 L172 441.1 L177.3 447 L180.6 449.4 L203.6 449.4 L205.5 448.6 L214.1 448.6" fill="none" stroke="#17389a" stroke-width="2.2" stroke-linejoin="round" stroke-linecap="butt"/>
<path d="M42.3 326.1 L42.6 331.8 L43.6 334 L45.9 333.8 L48.5 331.8 L50.5 330.9 L52.4 331.1 L53.7 334.4 L55.7 335.1 L57.7 333.8 L60.3 335.7 L66.2 339.7 L74.1 344.3 L82 350.2 L88.6 355.4 L93.5 360 L97.9 364.8 L105.8 374.7 L115 383.9 L125.5 392.4 L131.5 397.5 L137.9 403 L145.8 411.5 L152.3 421.4 L158.9 430.6 L165.5 439.1 L172 445.7 L177.3 450.3 L178.6 451 L214.1 451" fill="none" stroke="#d41920" stroke-width="2.2" stroke-linejoin="round" stroke-linecap="butt"/>
<path d="M275.3 348.2 L275.6 354.1 L277.5 355.4 L281.5 354.5 L284.8 353.2 L286.7 355.4 L290 356.7 L292.6 356.3 L297.9 359.4 L302.9 362.3 L312.1 368.2 L321.3 374.8 L330.5 382 L339.7 389.9 L348.9 397.2 L358.1 403.1 L369.5 411 L378 417.5 L386.3 426.6 L392.8 434.5 L400.7 441.1 L407.3 447 L411.2 451.6 L447.4 452" fill="none" stroke="#d41920" stroke-width="2.2" stroke-linejoin="round" stroke-linecap="butt"/>
<path d="M282.8 282.2 L290 287.1 L295.3 291.4 L301.8 297 L308.4 302.9 L313.7 308.1 L320 314.3 L326.1 322 L332.3 330.7 L337.4 339.3 L342.5 348 L348.6 357.2 L353.7 364.4 L357.8 370.5 L364.2 380.5 L370.5 389.2 L377.1 398.4 L383.7 407.6 L390.2 416.8 L396.8 427.3 L403.4 436.5 L409.9 445.7 L413.9 449.6 L419.1 451 L433.6 451.6 L434.2 450.6 L447.4 450.6" fill="none" stroke="#17389a" stroke-width="2.2" stroke-linejoin="round" stroke-linecap="butt"/>
<path d="M505.9 364.3 L506.3 370.2 L507.9 372.6 L510.5 372.2 L513.8 369.6 L516.4 367.9 L517.7 370.9 L519.7 373.1 L522.3 371.8 L525 372.6 L527.6 374.4 L538.1 379.2 L549.9 384.7 L561.8 390.6 L574.9 398.5 L590 405.5 L602.5 411.6 L613.6 419.2 L620.5 426.9 L627.4 434.5 L634.4 441.4 L641.3 448.4 L645.5 449.3 L659.3 448.8 L670.4 449.1 L678.8 449.7" fill="none" stroke="#d41920" stroke-width="2.2" stroke-linejoin="round" stroke-linecap="butt"/>
<path d="M513.5 281.2 L513.5 288.4 L519.7 293 L526.3 298.3 L532.8 304.2 L539.4 310.8 L546 316.7 L552.6 323.9 L559.1 331.8 L565 340.2 L573 351.7 L581.5 364.3 L590 376.5 L596.9 385.3 L603.9 395 L610.8 404.7 L617.7 414.4 L624.7 424.8 L631.6 434.5 L638.5 442.8 L642.7 446.3 L648.2 447.9 L659.3 447.9 L662.1 447.4 L674.6 447.7 L678.8 448.6" fill="none" stroke="#17389a" stroke-width="2.2" stroke-linejoin="round" stroke-linecap="butt"/>
<path d="M42.3 514.9 L45.9 524.5 L49.1 531.7 L53.1 538.9 L57.7 546.8 L62.3 553.8 L66.2 558 L71.5 561.3 L79.4 565.9 L87.2 569.8 L95.1 575.1 L103 581 L109.6 584.3 L117.5 587.5 L122 589 L134.6 593.6 L149.2 598.5 L163.8 602.4 L178.4 607.2 L193 611.6 L207.6 615.5 L214.9 617.4" fill="none" stroke="#17389a" stroke-width="1.8" stroke-linejoin="round" stroke-linecap="butt"/>
<path d="M275.3 514.9 L278.9 524.5 L282.1 531.7 L286.1 538.9 L290.7 546.8 L295.3 553.8 L299.9 558 L304.5 560.6 L312.4 565.2 L320.2 569.8 L328.1 575.1 L336 581 L342.6 584.3 L350.5 587.5 L359 590.6 L364.6 592.6 L379.2 597.7 L396.7 602.1 L408.4 605.8 L423 610.1 L437.6 614.1 L448.1 617" fill="none" stroke="#17389a" stroke-width="1.8" stroke-linejoin="round" stroke-linecap="butt"/>
<path d="M506.6 514.9 L508.5 522.5 L510.5 531.7 L513.1 540.2 L517.1 550.1 L521.7 559.3 L526.3 567.2 L531.5 573.1 L538.1 578.4 L544.7 583 L549.9 586.9 L553.9 589.5 L559.1 594.8 L562 598.5 L566.4 603.7 L571.1 610 L577.8 613.2 L589.2 617.6 L602.4 622.1 L615.7 625.9 L630.9 629.3 L646.1 632.2 L661.3 635.4 L678.4 638.5" fill="none" stroke="#17389a" stroke-width="1.8" stroke-linejoin="round" stroke-linecap="butt"/>
<rect x="36.5" y="33.5" width="178.1" height="177.9" fill="none" stroke="#555" stroke-width="1.1"/>
<rect x="269.6" y="33.5" width="178.2" height="177.5" fill="none" stroke="#555" stroke-width="1.1"/>
<rect x="500.4" y="33.5" width="178.2" height="177.7" fill="none" stroke="#555" stroke-width="1.1"/>
<rect x="36.5" y="275.7" width="177.6" height="177.6" fill="none" stroke="#555" stroke-width="1.1"/>
<rect x="269.6" y="275.7" width="178" height="177.6" fill="none" stroke="#555" stroke-width="1.1"/>
<rect x="500.4" y="275.7" width="178.4" height="177.6" fill="none" stroke="#555" stroke-width="1.1"/>
<rect x="36.6" y="514.9" width="178.3" height="177.7" fill="none" stroke="#555" stroke-width="1.1"/>
<rect x="269.6" y="514.9" width="178.5" height="177.7" fill="none" stroke="#555" stroke-width="1.1"/>
<rect x="500.4" y="514.9" width="178" height="177.7" fill="none" stroke="#555" stroke-width="1.1"/>
</svg>
</body></html>
